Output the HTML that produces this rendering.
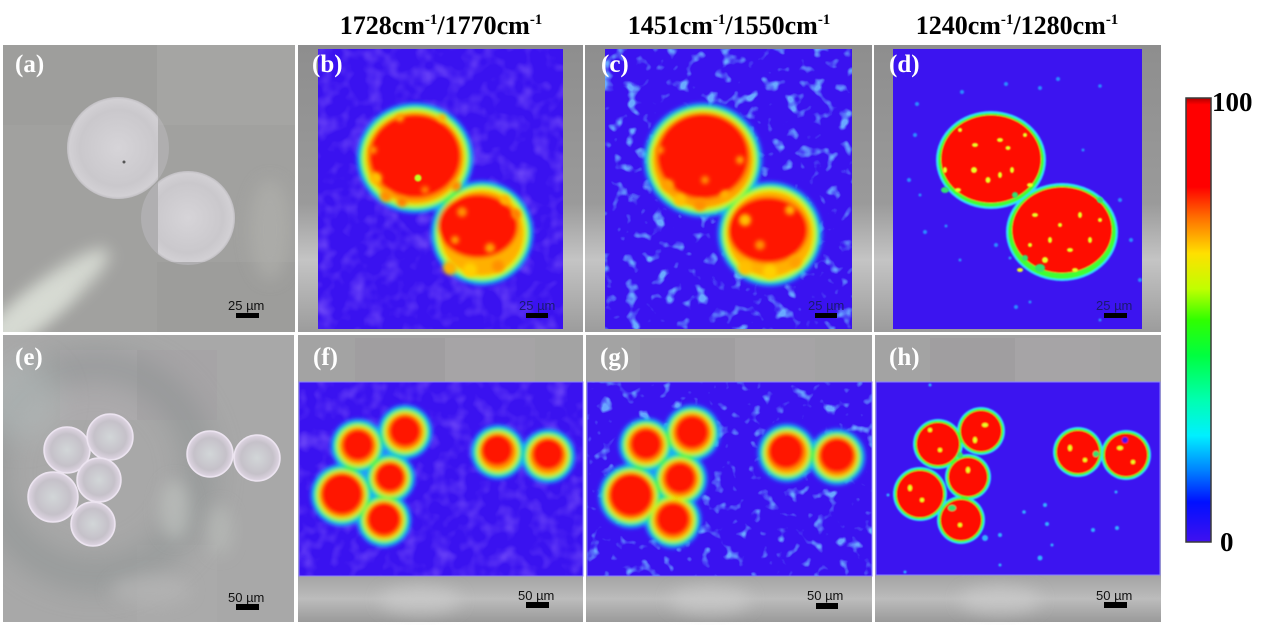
<!DOCTYPE html>
<html><head><meta charset="utf-8">
<style>html,body{margin:0;padding:0;background:#fff;}svg{display:block}</style>
</head>
<body>
<svg width="1269" height="625" viewBox="0 0 1269 625" xmlns="http://www.w3.org/2000/svg">
<defs>
 <filter id="b1" x="-30%" y="-30%" width="160%" height="160%"><feGaussianBlur stdDeviation="0.9"/></filter>
 <filter id="b2" x="-30%" y="-30%" width="160%" height="160%"><feGaussianBlur stdDeviation="2.2"/></filter>
 <filter id="b3" x="-30%" y="-30%" width="160%" height="160%"><feGaussianBlur stdDeviation="3"/></filter>
 <filter id="b8" x="-60%" y="-60%" width="220%" height="220%"><feGaussianBlur stdDeviation="8"/></filter>
 <filter id="b14" x="-60%" y="-60%" width="220%" height="220%"><feGaussianBlur stdDeviation="14"/></filter>
 <filter id="nzC" x="0" y="0" width="1" height="1">
  <feTurbulence type="fractalNoise" baseFrequency="0.075" numOctaves="2" seed="7" result="t"/>
  <feColorMatrix in="t" type="matrix" values="0 0 0 0 0.14  0 0 0 0 0.40  0 0 0 0 1  5 0 0 0 -2.85" result="c"/>
  <feComposite in="c" in2="SourceGraphic" operator="in"/>
 </filter>
 <filter id="nzG" x="0" y="0" width="1" height="1">
  <feTurbulence type="fractalNoise" baseFrequency="0.08" numOctaves="2" seed="21" result="t"/>
  <feColorMatrix in="t" type="matrix" values="0 0 0 0 0.14  0 0 0 0 0.38  0 0 0 0 1  5 0 0 0 -3.0" result="c"/>
  <feComposite in="c" in2="SourceGraphic" operator="in"/>
 </filter>
 <filter id="nzB" x="0" y="0" width="1" height="1">
  <feTurbulence type="fractalNoise" baseFrequency="0.06" numOctaves="2" seed="4" result="t"/>
  <feColorMatrix in="t" type="matrix" values="0 0 0 0 0.35  0 0 0 0 0.2  0 0 0 0 1  1 0 0 0 -0.45" result="c"/>
  <feComposite in="c" in2="SourceGraphic" operator="in"/>
 </filter>
 <linearGradient id="cbar" x1="0" y1="0" x2="0" y2="1">
  <stop offset="0" stop-color="#b00000"/>
  <stop offset="0.015" stop-color="#ff0000"/>
  <stop offset="0.2" stop-color="#ff0000"/>
  <stop offset="0.27" stop-color="#ff7000"/>
  <stop offset="0.35" stop-color="#ffe000"/>
  <stop offset="0.43" stop-color="#c0ff00"/>
  <stop offset="0.5" stop-color="#30ff00"/>
  <stop offset="0.58" stop-color="#00ff40"/>
  <stop offset="0.68" stop-color="#00ffb0"/>
  <stop offset="0.76" stop-color="#00f0ff"/>
  <stop offset="0.84" stop-color="#0080ff"/>
  <stop offset="0.91" stop-color="#0010ff"/>
  <stop offset="1" stop-color="#4010f0"/>
 </linearGradient>
 <radialGradient id="sphA" cx="0.5" cy="0.5" r="0.5">
  <stop offset="0" stop-color="#d6d4d8"/>
  <stop offset="0.75" stop-color="#cac8cc"/>
  <stop offset="0.95" stop-color="#d2d0d4"/>
  <stop offset="1" stop-color="#c0bec2"/>
 </radialGradient>
 <radialGradient id="sphE" cx="0.5" cy="0.5" r="0.5">
  <stop offset="0" stop-color="#d2d6d8"/>
  <stop offset="0.7" stop-color="#c5c1c9"/>
  <stop offset="0.92" stop-color="#d8d0dc"/>
  <stop offset="1" stop-color="#e4dcea"/>
 </radialGradient>
 <linearGradient id="sideG" x1="0" y1="0" x2="0" y2="1">
  <stop offset="0" stop-color="#8e8e8e"/>
  <stop offset="0.55" stop-color="#9a9a9a"/>
  <stop offset="0.75" stop-color="#c4c4c4"/>
  <stop offset="1" stop-color="#9c9c9c"/>
 </linearGradient>
 <linearGradient id="botG" x1="0" y1="0" x2="0" y2="1">
  <stop offset="0" stop-color="#a4a4a4"/>
  <stop offset="0.5" stop-color="#bcbcbc"/>
  <stop offset="1" stop-color="#9a9a9a"/>
 </linearGradient>
 <clipPath id="cpB"><rect x="318" y="49" width="245" height="280"/></clipPath>
 <clipPath id="cpC"><rect x="605" y="49" width="247" height="280"/></clipPath>
 <clipPath id="cpD"><rect x="893" y="49" width="249" height="280"/></clipPath>
 <clipPath id="cpA"><rect x="3" y="45" width="292" height="287"/></clipPath>
 <clipPath id="cpE"><rect x="3" y="335" width="291" height="287"/></clipPath>
</defs>

<rect width="1269" height="625" fill="#fff"/>

<!-- Headings -->
<g font-family="Liberation Serif, serif" font-weight="bold" font-size="26" fill="#000" text-anchor="middle">
 <text x="441" y="34">1728cm<tspan dy="-10" font-size="15">-1</tspan><tspan dy="10">/1770cm</tspan><tspan dy="-10" font-size="15">-1</tspan></text>
 <text x="729" y="34">1451cm<tspan dy="-10" font-size="15">-1</tspan><tspan dy="10">/1550cm</tspan><tspan dy="-10" font-size="15">-1</tspan></text>
 <text x="1017" y="34">1240cm<tspan dy="-10" font-size="15">-1</tspan><tspan dy="10">/1280cm</tspan><tspan dy="-10" font-size="15">-1</tspan></text>
</g>

<!-- Panel (a) -->
<g clip-path="url(#cpA)">
 <rect x="3" y="45" width="292" height="287" fill="#a1a19f"/>
 <rect x="157" y="45" width="138" height="80" fill="#a5a5a3"/>
 <rect x="3" y="45" width="154" height="80" fill="#9e9e9c"/>
 <rect x="157" y="262" width="138" height="70" fill="#9d9d9b"/>
 <ellipse cx="45" cy="300" rx="80" ry="18" transform="rotate(-38 45 300)" fill="#e6ebe2" opacity="0.75" filter="url(#b8)"/>
 <ellipse cx="25" cy="320" rx="60" ry="14" transform="rotate(-38 25 320)" fill="#d8dcd4" opacity="0.7" filter="url(#b8)"/>
 <ellipse cx="270" cy="230" rx="20" ry="50" fill="#b2b2ae" opacity="0.6" filter="url(#b8)"/>
 <circle cx="188" cy="218" r="47" fill="#b7b5b9" opacity="0.7"/>
 <clipPath id="cpA1"><rect x="3" y="45" width="155" height="287"/></clipPath>
 <clipPath id="cpA2"><rect x="158" y="45" width="140" height="217"/></clipPath>
 <circle cx="118" cy="148" r="51" fill="#b9b7bb" opacity="0.6"/>
 <circle cx="118" cy="148" r="51" fill="url(#sphA)" clip-path="url(#cpA1)"/>
 <circle cx="188" cy="218" r="47" fill="url(#sphA)" clip-path="url(#cpA2)"/>
 <circle cx="124" cy="162" r="1.5" fill="#555"/>
</g>

<!-- Panel (b) -->
<rect x="298" y="45" width="285" height="287" fill="url(#sideG)"/>
<rect x="318" y="49" width="245" height="280" fill="#3a12f0"/>
<rect x="318" y="49" width="245" height="280" fill="#fff" filter="url(#nzB)"/>
<g clip-path="url(#cpB)">
 <g filter="url(#b2)">
  <ellipse cx="415" cy="158" rx="58" ry="55" fill="#1aa8ff"/>
  <ellipse cx="482" cy="233" rx="51" ry="52" fill="#1aa8ff"/>
  <ellipse cx="415" cy="158" rx="55" ry="52" fill="#10f060"/>
  <ellipse cx="482" cy="233" rx="48" ry="49" fill="#10f060"/>
  <ellipse cx="415" cy="158" rx="52" ry="49" fill="#d0ff10"/>
  <ellipse cx="482" cy="233" rx="45" ry="46" fill="#d8ff10"/>
  <ellipse cx="415" cy="158" rx="49" ry="46" fill="#ffa000"/>
  <ellipse cx="482" cy="233" rx="42" ry="43" fill="#ffb000"/>
  <ellipse cx="415" cy="156" rx="46" ry="42" fill="#ff1400"/>
  <ellipse cx="478" cy="226" rx="40" ry="32" fill="#ff1400"/>
 </g>
 <g filter="url(#b2)">
  <circle cx="376" cy="178" r="6" fill="#ffc000"/>
  <circle cx="386" cy="196" r="6" fill="#ff9000"/>
  <circle cx="402" cy="202" r="5" fill="#ff8000"/>
  <circle cx="373" cy="150" r="4" fill="#ff9000"/>
  <circle cx="456" cy="186" r="5" fill="#ff8a00"/>
  <circle cx="442" cy="118" r="4" fill="#ffb000"/>
  <circle cx="400" cy="118" r="4" fill="#ffa000"/>
  <circle cx="425" cy="190" r="4" fill="#ff8000"/>
  <circle cx="450" cy="268" r="7" fill="#ffb000"/>
  <circle cx="470" cy="270" r="7" fill="#ffd000"/>
  <circle cx="498" cy="266" r="6" fill="#ff9000"/>
  <circle cx="516" cy="214" r="5" fill="#ff8000"/>
  <circle cx="462" cy="212" r="5" fill="#ff9000"/>
  <circle cx="490" cy="248" r="5" fill="#ffa000"/>
  <circle cx="505" cy="200" r="5" fill="#ffb000"/>
  <circle cx="455" cy="240" r="4" fill="#ffa000"/>
 </g>
 <circle cx="418" cy="178" r="3.5" fill="#c0ff20" filter="url(#b1)"/>
</g>

<!-- Panel (c) -->
<rect x="585" y="45" width="287" height="287" fill="url(#sideG)"/>
<rect x="605" y="49" width="247" height="280" fill="#3a12f0"/>
<rect x="605" y="49" width="247" height="280" fill="#fff" filter="url(#nzC)"/>
<g clip-path="url(#cpC)">
 <g filter="url(#b2)">
  <ellipse cx="703" cy="160" rx="59" ry="57" fill="#1aa8ff"/>
  <ellipse cx="770" cy="234" rx="52" ry="52" fill="#1aa8ff"/>
  <ellipse cx="703" cy="160" rx="56" ry="54" fill="#10f060"/>
  <ellipse cx="770" cy="234" rx="49" ry="49" fill="#10f060"/>
  <ellipse cx="703" cy="160" rx="53" ry="51" fill="#d0ff10"/>
  <ellipse cx="770" cy="234" rx="46" ry="46" fill="#d8ff10"/>
  <ellipse cx="703" cy="160" rx="50" ry="48" fill="#ffa000"/>
  <ellipse cx="770" cy="234" rx="43" ry="43" fill="#ffb000"/>
  <ellipse cx="703" cy="156" rx="46" ry="43" fill="#ff1400"/>
  <ellipse cx="768" cy="230" rx="40" ry="33" fill="#ff1400"/>
 </g>
 <g filter="url(#b2)">
  <circle cx="668" cy="185" r="6" fill="#ffa000"/>
  <circle cx="680" cy="200" r="6" fill="#ffc000"/>
  <circle cx="700" cy="205" r="6" fill="#ff9000"/>
  <circle cx="725" cy="195" r="5" fill="#ffb000"/>
  <circle cx="740" cy="160" r="4" fill="#ffa000"/>
  <circle cx="660" cy="150" r="4" fill="#ff9000"/>
  <circle cx="705" cy="180" r="4" fill="#ff9000"/>
  <circle cx="745" cy="268" r="7" fill="#ffc000"/>
  <circle cx="770" cy="272" r="7" fill="#ffd000"/>
  <circle cx="795" cy="262" r="6" fill="#ffa000"/>
  <circle cx="790" cy="210" r="5" fill="#ffb000"/>
  <circle cx="745" cy="220" r="6" fill="#ffc000"/>
  <circle cx="760" cy="245" r="5" fill="#ff9000"/>
 </g>
</g>

<!-- Panel (d) -->
<rect x="874" y="45" width="287" height="287" fill="url(#sideG)"/>
<rect x="893" y="49" width="249" height="280" fill="#3c14f0"/>
<g clip-path="url(#cpD)">
 <g fill="#2a8cff" filter="url(#b1)">
  <circle cx="917" cy="104" r="2"/><circle cx="915" cy="135" r="2"/><circle cx="962" cy="92" r="2"/>
  <circle cx="1006" cy="84" r="2"/><circle cx="1040" cy="88" r="2"/><circle cx="1058" cy="79" r="2"/>
  <circle cx="1100" cy="86" r="1.8"/><circle cx="909" cy="180" r="2"/><circle cx="920" cy="195" r="1.5"/>
  <circle cx="925" cy="232" r="2"/><circle cx="946" cy="226" r="1.5"/><circle cx="1120" cy="200" r="2"/>
  <circle cx="1131" cy="240" r="2"/><circle cx="1140" cy="280" r="2"/><circle cx="1016" cy="307" r="2"/>
  <circle cx="1030" cy="302" r="1.5"/><circle cx="960" cy="260" r="1.5"/><circle cx="1083" cy="150" r="1.5"/>
  <circle cx="996" cy="245" r="2"/><circle cx="1010" cy="258" r="1.5"/><circle cx="1100" cy="320" r="1.5"/>
 </g>
 <g filter="url(#b1)">
  <ellipse cx="991" cy="160" rx="55" ry="49" fill="#30d8ff"/>
  <ellipse cx="1062" cy="232" rx="56" ry="49" fill="#30d8ff"/>
  <ellipse cx="991" cy="160" rx="53" ry="47" fill="#40ff30"/>
  <ellipse cx="1062" cy="232" rx="54" ry="47" fill="#40ff30"/>
  <ellipse cx="991" cy="159" rx="50" ry="44" fill="#ff1000"/>
  <ellipse cx="1062" cy="230" rx="50" ry="43" fill="#ff1000"/>
 </g>
 <g fill="#e8ff20" filter="url(#b1)">
  <ellipse cx="975" cy="145" rx="3" ry="2"/><ellipse cx="1000" cy="140" rx="3" ry="2"/><ellipse cx="1008" cy="148" rx="2.5" ry="2"/>
  <ellipse cx="974" cy="170" rx="3" ry="3"/><ellipse cx="988" cy="180" rx="2.5" ry="3"/><ellipse cx="1000" cy="175" rx="2" ry="3"/>
  <ellipse cx="1012" cy="170" rx="2" ry="3"/><ellipse cx="958" cy="190" rx="3" ry="2"/><ellipse cx="945" cy="170" rx="2" ry="3"/>
  <ellipse cx="1025" cy="135" rx="2" ry="2"/><ellipse cx="960" cy="130" rx="2" ry="2"/><ellipse cx="1030" cy="185" rx="3" ry="2"/>
  <ellipse cx="1035" cy="215" rx="3" ry="2"/><ellipse cx="1060" cy="225" rx="2" ry="2"/><ellipse cx="1080" cy="215" rx="2" ry="3"/>
  <ellipse cx="1050" cy="240" rx="2" ry="3"/><ellipse cx="1070" cy="250" rx="3" ry="2"/><ellipse cx="1090" cy="240" rx="2" ry="3"/>
  <ellipse cx="1045" cy="260" rx="3" ry="3"/><ellipse cx="1030" cy="245" rx="2" ry="2"/><ellipse cx="1100" cy="220" rx="2" ry="2"/>
  <ellipse cx="1075" cy="270" rx="3" ry="2"/><ellipse cx="1020" cy="270" rx="3" ry="2"/>
 </g>
 <g fill="#30e070" filter="url(#b1)">
  <ellipse cx="1040" cy="268" rx="5" ry="4"/><ellipse cx="1025" cy="258" rx="3" ry="3"/><ellipse cx="945" cy="190" rx="4" ry="3"/>
  <ellipse cx="1100" cy="200" rx="3" ry="3"/><ellipse cx="1015" cy="195" rx="3" ry="3"/>
 </g>
</g>

<!-- Panel (e) -->
<g clip-path="url(#cpE)">
 <rect x="3" y="335" width="291" height="287" fill="#a8a8a8"/>
 <rect x="60" y="350" width="80" height="70" fill="#acaaac"/>
 <rect x="137" y="350" width="80" height="70" fill="#a6a4a6"/>
 <rect x="137" y="545" width="80" height="77" fill="#aaaaaa"/>
 <circle cx="95" cy="470" r="105" fill="none" stroke="#888e8e" stroke-width="30" opacity="0.55" filter="url(#b14)"/>
 <circle cx="20" cy="400" r="40" fill="#b8c0c0" opacity="0.5" filter="url(#b14)"/>
 <ellipse cx="175" cy="510" rx="15" ry="30" fill="#c4c8c4" opacity="0.6" filter="url(#b8)"/>
 <ellipse cx="220" cy="530" rx="12" ry="25" fill="#bcc0bc" opacity="0.6" filter="url(#b8)"/>
 <ellipse cx="150" cy="590" rx="40" ry="15" fill="#b8b8b8" opacity="0.6" filter="url(#b8)"/>
 <g stroke="#ece4f0" stroke-width="1.5">
  <circle cx="53" cy="497" r="25" fill="url(#sphE)"/>
  <circle cx="67" cy="450" r="23" fill="url(#sphE)"/>
  <circle cx="110" cy="437" r="23" fill="url(#sphE)"/>
  <circle cx="99" cy="480" r="22" fill="url(#sphE)"/>
  <circle cx="93" cy="524" r="22" fill="url(#sphE)"/>
  <circle cx="210" cy="454" r="23" fill="url(#sphE)"/>
  <circle cx="257" cy="458" r="23" fill="url(#sphE)"/>
 </g>
</g>

<!-- Row 2 heat panels: gray frames -->
<g>
 <rect x="298" y="335" width="285" height="287" fill="#a3a3a3"/>
 <rect x="355" y="338" width="90" height="44" fill="#a09ea0"/>
 <rect x="445" y="338" width="90" height="44" fill="#a6a4a6"/>
 <rect x="298" y="576" width="285" height="46" fill="url(#botG)"/>
 <rect x="586" y="335" width="286" height="287" fill="#a3a3a3"/>
 <rect x="640" y="338" width="95" height="44" fill="#a09ea0"/>
 <rect x="735" y="338" width="80" height="44" fill="#a6a4a6"/>
 <rect x="586" y="576" width="286" height="46" fill="url(#botG)"/>
 <rect x="875" y="335" width="286" height="287" fill="#a3a3a3"/>
 <rect x="930" y="338" width="85" height="44" fill="#a09ea0"/>
 <rect x="1015" y="338" width="85" height="44" fill="#a6a4a6"/>
 <rect x="875" y="576" width="286" height="46" fill="url(#botG)"/>
 <ellipse cx="420" cy="600" rx="40" ry="14" fill="#cfcfcf" opacity="0.6" filter="url(#b8)"/>
 <ellipse cx="710" cy="600" rx="40" ry="14" fill="#cfcfcf" opacity="0.6" filter="url(#b8)"/>
 <ellipse cx="1000" cy="600" rx="40" ry="14" fill="#cfcfcf" opacity="0.6" filter="url(#b8)"/>
</g>

<!-- Panel (f) -->
<rect x="299" y="382" width="284" height="194" fill="#3a12f0" stroke="#8a80ff" stroke-width="1"/>
<rect x="299" y="382" width="284" height="194" fill="#fff" filter="url(#nzB)"/>
<g filter="url(#b2)">
 <g fill="#1aa8ff">
  <circle cx="358" cy="446" r="27"/><circle cx="405" cy="432" r="27"/><circle cx="390" cy="478" r="25"/>
  <circle cx="342" cy="495" r="31"/><circle cx="384" cy="520" r="27"/><circle cx="498" cy="452" r="27"/><circle cx="548" cy="456" r="27"/>
 </g>
 <g fill="#10f060">
  <circle cx="358" cy="446" r="24"/><circle cx="405" cy="432" r="24"/><circle cx="390" cy="478" r="22"/>
  <circle cx="342" cy="495" r="28"/><circle cx="384" cy="520" r="24"/><circle cx="498" cy="452" r="24"/><circle cx="548" cy="456" r="24"/>
 </g>
 <g fill="#d8ff10">
  <circle cx="358" cy="446" r="21"/><circle cx="405" cy="432" r="21"/><circle cx="390" cy="478" r="19"/>
  <circle cx="342" cy="495" r="25"/><circle cx="384" cy="520" r="21"/><circle cx="498" cy="452" r="21"/><circle cx="548" cy="456" r="21"/>
 </g>
 <g fill="#ffa000">
  <circle cx="358" cy="446" r="19"/><circle cx="405" cy="432" r="19"/><circle cx="390" cy="478" r="17"/>
  <circle cx="342" cy="495" r="23"/><circle cx="384" cy="520" r="19"/><circle cx="498" cy="452" r="19"/><circle cx="548" cy="456" r="19"/>
 </g>
 <g fill="#ff1400">
  <circle cx="358" cy="445" r="16"/><circle cx="405" cy="431" r="16"/><circle cx="390" cy="477" r="15"/>
  <circle cx="342" cy="494" r="21"/><circle cx="384" cy="519" r="17"/><circle cx="497" cy="450" r="16"/><circle cx="548" cy="454" r="16"/>
 </g>
</g>

<!-- Panel (g) -->
<rect x="587" y="382" width="285" height="194" fill="#3a12f0" stroke="#8a80ff" stroke-width="1"/>
<rect x="587" y="382" width="285" height="194" fill="#fff" filter="url(#nzG)"/>
<g filter="url(#b2)">
 <g fill="#1aa8ff">
  <circle cx="646" cy="445" r="27"/><circle cx="692" cy="433" r="28"/><circle cx="680" cy="479" r="27"/>
  <circle cx="631" cy="496" r="32"/><circle cx="673" cy="520" r="28"/><circle cx="787" cy="453" r="29"/><circle cx="837" cy="457" r="28"/>
 </g>
 <g fill="#10f060">
  <circle cx="646" cy="445" r="24"/><circle cx="692" cy="433" r="25"/><circle cx="680" cy="479" r="24"/>
  <circle cx="631" cy="496" r="29"/><circle cx="673" cy="520" r="25"/><circle cx="787" cy="453" r="26"/><circle cx="837" cy="457" r="25"/>
 </g>
 <g fill="#d8ff10">
  <circle cx="646" cy="445" r="21"/><circle cx="692" cy="433" r="22"/><circle cx="680" cy="479" r="21"/>
  <circle cx="631" cy="496" r="26"/><circle cx="673" cy="520" r="22"/><circle cx="787" cy="453" r="23"/><circle cx="837" cy="457" r="22"/>
 </g>
 <g fill="#ffa000">
  <circle cx="646" cy="445" r="19"/><circle cx="692" cy="433" r="20"/><circle cx="680" cy="479" r="19"/>
  <circle cx="631" cy="496" r="24"/><circle cx="673" cy="520" r="20"/><circle cx="787" cy="453" r="21"/><circle cx="837" cy="457" r="20"/>
 </g>
 <g fill="#ff1400">
  <circle cx="646" cy="444" r="16"/><circle cx="692" cy="432" r="17"/><circle cx="680" cy="478" r="16"/>
  <circle cx="631" cy="495" r="22"/><circle cx="673" cy="519" r="17"/><circle cx="786" cy="451" r="18"/><circle cx="837" cy="455" r="18"/>
 </g>
</g>

<!-- Panel (h) -->
<rect x="876" y="382" width="284" height="193" fill="#3c14f0" stroke="#8a80ff" stroke-width="1"/>
<g fill="#30b0ff" filter="url(#b1)">
 <circle cx="1040" cy="558" r="2.5"/><circle cx="1047" cy="524" r="2"/><circle cx="1045" cy="505" r="2"/>
 <circle cx="1024" cy="512" r="1.8"/><circle cx="888" cy="495" r="1.5"/><circle cx="1117" cy="528" r="2"/>
 <circle cx="1093" cy="530" r="2"/><circle cx="1000" cy="535" r="2"/><circle cx="1052" cy="545" r="1.5"/>
 <circle cx="985" cy="538" r="3"/><circle cx="1116" cy="492" r="1.5"/><circle cx="1000" cy="565" r="1.5"/>
 <circle cx="905" cy="572" r="1.5"/><circle cx="930" cy="385" r="1.5"/>
</g>
<g filter="url(#b1)">
 <g fill="#30d8ff">
  <circle cx="938" cy="444" r="25"/><circle cx="981" cy="431" r="24"/><circle cx="968" cy="477" r="23"/>
  <circle cx="920" cy="494" r="27"/><circle cx="961" cy="520" r="24"/><circle cx="1078" cy="452" r="25"/><circle cx="1126" cy="455" r="25"/>
 </g>
 <g fill="#40ff30">
  <circle cx="938" cy="444" r="23.5"/><circle cx="981" cy="431" r="22.5"/><circle cx="968" cy="477" r="21.5"/>
  <circle cx="920" cy="494" r="25.5"/><circle cx="961" cy="520" r="22.5"/><circle cx="1078" cy="452" r="23.5"/><circle cx="1126" cy="455" r="23.5"/>
 </g>
 <g fill="#ff1000">
  <circle cx="938" cy="444" r="21.5"/><circle cx="981" cy="431" r="20.5"/><circle cx="968" cy="477" r="19.5"/>
  <circle cx="920" cy="494" r="23.5"/><circle cx="961" cy="520" r="20.5"/><circle cx="1078" cy="452" r="21.5"/><circle cx="1126" cy="455" r="21.5"/>
 </g>
 <g fill="#e8ff20">
  <ellipse cx="985" cy="425" rx="3" ry="2"/><ellipse cx="975" cy="440" rx="2" ry="3"/><ellipse cx="940" cy="450" rx="2" ry="2"/>
  <ellipse cx="968" cy="470" rx="2" ry="3"/><ellipse cx="922" cy="500" rx="2" ry="2"/><ellipse cx="960" cy="525" rx="2" ry="2"/>
  <ellipse cx="1070" cy="448" rx="2" ry="3"/><ellipse cx="1085" cy="460" rx="2" ry="2"/><ellipse cx="1120" cy="448" rx="3" ry="2"/>
  <ellipse cx="1133" cy="462" rx="2" ry="2"/><ellipse cx="930" cy="430" rx="2" ry="2"/><ellipse cx="910" cy="488" rx="2" ry="3"/>
 </g>
 <g fill="#30e070">
  <ellipse cx="952" cy="508" rx="4" ry="3"/><ellipse cx="960" cy="455" rx="3" ry="3"/><ellipse cx="1096" cy="454" rx="3" ry="3"/>
 </g>
 <ellipse cx="1125" cy="440" rx="3" ry="3" fill="#3c14f0"/>
</g>

<!-- Panel labels -->
<g font-family="Liberation Serif, serif" font-weight="bold" font-size="25" fill="#fff">
 <text x="15" y="72">(a)</text>
 <text x="312" y="72">(b)</text>
 <text x="601" y="72">(c)</text>
 <text x="889" y="72">(d)</text>
 <text x="15" y="365">(e)</text>
 <text x="313" y="365">(f)</text>
 <text x="600" y="365">(g)</text>
 <text x="889" y="365">(h)</text>
</g>

<!-- Scale bars -->
<g font-family="Liberation Sans, sans-serif" font-size="13">
 <text x="228" y="310" fill="#111">25 µm</text>
 <rect x="236" y="313" width="23" height="5" fill="#000"/>
 <text x="519" y="310" fill="#1a1a70">25 µm</text>
 <rect x="526" y="313" width="22" height="5" fill="#000"/>
 <text x="808" y="310" fill="#1a1a70">25 µm</text>
 <rect x="815" y="313" width="22" height="5" fill="#000"/>
 <text x="1096" y="310" fill="#1a1a70">25 µm</text>
 <rect x="1104" y="313" width="23" height="5" fill="#000"/>
 <text x="228" y="602" fill="#111">50 µm</text>
 <rect x="236" y="604" width="23" height="6" fill="#000"/>
 <text x="518" y="600" fill="#111">50 µm</text>
 <rect x="526" y="602" width="23" height="6" fill="#000"/>
 <text x="807" y="600" fill="#111">50 µm</text>
 <rect x="816" y="603" width="22" height="6" fill="#000"/>
 <text x="1096" y="600" fill="#111">50 µm</text>
 <rect x="1104" y="602" width="23" height="6" fill="#000"/>
</g>

<!-- Colorbar -->
<rect x="1186" y="98" width="25" height="444" fill="url(#cbar)" stroke="#3a3a3a" stroke-width="1.5"/>
<g font-family="Liberation Serif, serif" font-weight="bold" font-size="27" fill="#000">
 <text x="1212" y="111">100</text>
 <text x="1220" y="551">0</text>
</g>
</svg>
</body>
</html>
